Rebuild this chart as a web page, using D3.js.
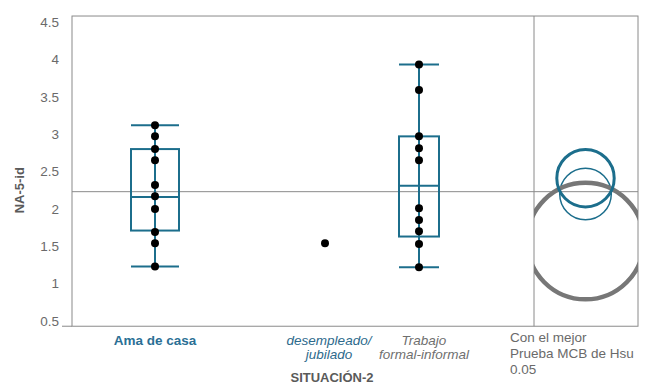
<!DOCTYPE html>
<html>
<head>
<meta charset="utf-8">
<script src="https://cdn.jsdelivr.net/npm/d3@7"></script>
<style>
  body { margin: 0; background: #fff; }
  text { font-family: "Liberation Sans", Arial, sans-serif; }
</style>
</head>
<body>
<div class="chart"></div>
<script>
// data
var categories = ['Ama de casa', 'desempleado/jubilado', 'Trabajo formal-informal']
var points = [
  [3.12, 2.97, 2.80, 2.65, 2.32, 2.17, 2.00, 1.69, 1.54, 1.23],
  [1.54],
  [3.93, 3.59, 2.97, 2.81, 2.65, 2.01, 1.85, 1.70, 1.53, 1.22]
]
// box stats: [whiskerLow, q1, median, q3, whiskerHigh]
var boxStats = [
  [1.23, 1.71, 2.16, 2.80, 3.12],
  null,
  [1.22, 1.63, 2.31, 2.97, 3.93]
]
var grandMean = 2.23
var circleMeans = [2.20, 1.57, 2.41]
var circleRadii = [0.345, 0.78, 0.384]
var yTicks = [0.5, 1, 1.5, 2, 2.5, 3, 3.5, 4, 4.5]
var noteLines = ['Con el mejor', 'Prueba MCB de Hsu', '0.05']

var W = 652, H = 389
var left = 72, divider = 534, right = 638

var svg = d3.select('.chart').append('svg')
  .attr('width', W)
  .attr('height', H)

var y = d3.scaleLinear().domain([0.5, 4.5]).range([321, 22])
var x = d3.scaleOrdinal().domain(categories).range([155, 325, 419])
var boxW = d3.scaleOrdinal().domain(categories).range([48, 0, 40])

var yTop = y(4.58), yBottom = y(0.43)
var blue = '#1c6e8c', frame = '#8a8a8a'

// frame
svg.append('rect')
  .attr('x', left).attr('y', yTop)
  .attr('width', right - left).attr('height', yBottom - yTop)
  .attr('fill', 'none').attr('stroke', frame).attr('stroke-width', 1)
svg.append('line')
  .attr('x1', divider).attr('x2', divider).attr('y1', yTop).attr('y2', yBottom)
  .attr('stroke', frame)
svg.append('line')
  .attr('x1', left - 10).attr('x2', left).attr('y1', yBottom).attr('y2', yBottom)
  .attr('stroke', frame)

// grand mean
svg.append('line')
  .attr('x1', left).attr('x2', right)
  .attr('y1', y(grandMean)).attr('y2', y(grandMean))
  .attr('stroke', frame)

// y axis
var yAxis = svg.append('g')
  .attr('transform', 'translate(' + left + ',0)')
  .call(d3.axisLeft(y).tickValues(yTicks).tickSize(0).tickPadding(13)
    .tickFormat(function (d) { return String(d) }))
yAxis.select('.domain').remove()
yAxis.selectAll('text')
  .attr('font-size', '13.5px')
  .attr('fill', '#6a6a6a')
  .style('font-family', '"Liberation Sans", Arial, sans-serif')

svg.append('text')
  .attr('transform', 'translate(24,' + y(2.25) + ') rotate(-90)')
  .attr('text-anchor', 'middle')
  .attr('font-size', '13px')
  .attr('font-weight', 'bold')
  .attr('fill', '#5a5a5a')
  .text('NA-5-id')

// boxes
var groups = svg.selectAll('g.grp')
  .data(categories)
  .enter()
  .append('g')
  .attr('class', 'grp')

groups.each(function (c, i) {
  var g = d3.select(this)
  var s = boxStats[i]
  var cx = x(c), w = boxW(c)
  if (s) {
    g.append('line')
      .attr('x1', cx).attr('x2', cx).attr('y1', y(s[0])).attr('y2', y(s[4]))
      .attr('stroke', blue).attr('stroke-width', 2)
    g.selectAll('line.whisk')
      .data([s[0], s[4]])
      .enter()
      .append('line')
      .attr('class', 'whisk')
      .attr('x1', cx - w / 2).attr('x2', cx + w / 2)
      .attr('y1', function (d) { return y(d) })
      .attr('y2', function (d) { return y(d) })
      .attr('stroke', blue).attr('stroke-width', 2)
    g.append('rect')
      .attr('x', cx - w / 2).attr('y', y(s[3]))
      .attr('width', w).attr('height', y(s[1]) - y(s[3]))
      .attr('fill', 'none').attr('stroke', blue).attr('stroke-width', 2)
    g.append('line')
      .attr('x1', cx - w / 2).attr('x2', cx + w / 2)
      .attr('y1', y(s[2])).attr('y2', y(s[2]))
      .attr('stroke', blue).attr('stroke-width', 2)
  }
  g.selectAll('circle')
    .data(points[i])
    .enter()
    .append('circle')
    .attr('cx', cx)
    .attr('cy', function (d) { return y(d) })
    .attr('r', 4)
    .attr('fill', '#000')
})

// x labels
var labelStyle = [
  { lines: ['Ama de casa'], color: '#2a6f95', weight: 'bold', style: 'normal', dx: 0 },
  { lines: ['desempleado/', 'jubilado'], color: '#2d6a8c', weight: 'normal', style: 'italic', dx: 4 },
  { lines: ['Trabajo', 'formal-informal'], color: '#6f6f6f', weight: 'normal', style: 'italic', dx: 5 }
]
categories.forEach(function (c, i) {
  var st = labelStyle[i]
  svg.append('text')
    .attr('x', x(c) + st.dx)
    .attr('y', 345)
    .attr('text-anchor', 'middle')
    .attr('font-size', '13.5px')
    .attr('font-weight', st.weight)
    .attr('font-style', st.style)
    .attr('fill', st.color)
    .selectAll('tspan')
    .data(st.lines)
    .enter()
    .append('tspan')
    .attr('x', x(c) + st.dx)
    .attr('dy', function (d, j) { return j === 0 ? 0 : 14 })
    .text(function (d) { return d })
})

svg.append('text')
  .attr('x', 332)
  .attr('y', 382)
  .attr('text-anchor', 'middle')
  .attr('font-size', '13px')
  .attr('font-weight', 'bold')
  .attr('fill', '#5a5a5a')
  .text('SITUACIÓN-2')

// comparison circles
svg.append('clipPath').attr('id', 'cpanel')
  .append('rect')
  .attr('x', divider).attr('y', yTop)
  .attr('width', right - divider).attr('height', yBottom - yTop)

var ccx = (divider + right) / 2 - 0.5
var circStyle = [
  { stroke: blue, width: 1.5 },
  { stroke: '#777', width: 4.5 },
  { stroke: blue, width: 3 }
]
svg.append('g')
  .attr('clip-path', 'url(#cpanel)')
  .selectAll('circle')
  .data(circleMeans)
  .enter()
  .append('circle')
  .attr('cx', ccx)
  .attr('cy', function (d) { return y(d) })
  .attr('r', function (d, i) { return Math.abs(y(d + circleRadii[i]) - y(d)) })
  .attr('fill', 'none')
  .attr('stroke', function (d, i) { return circStyle[i].stroke })
  .attr('stroke-width', function (d, i) { return circStyle[i].width })

svg.append('text')
  .attr('x', 510)
  .attr('y', 342)
  .attr('font-size', '13.5px')
  .attr('fill', '#6a6a6a')
  .selectAll('tspan')
  .data(noteLines)
  .enter()
  .append('tspan')
  .attr('x', 510)
  .attr('dy', function (d, j) { return j === 0 ? 0 : 16 })
  .text(function (d) { return d })
</script>
</body>
</html>
